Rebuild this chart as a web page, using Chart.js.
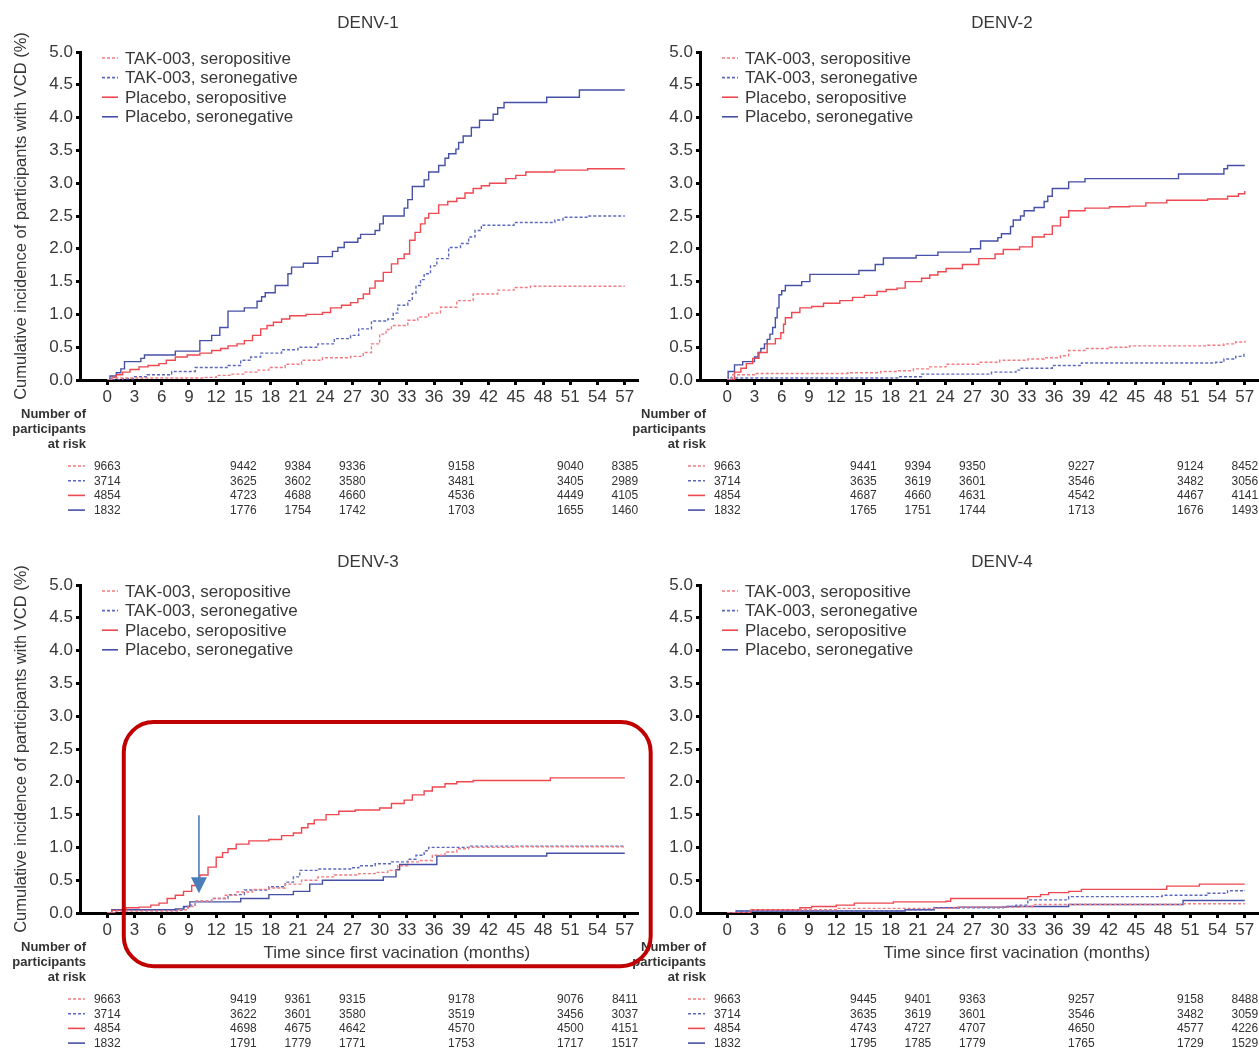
<!DOCTYPE html>
<html>
<head>
<meta charset="utf-8">
<script src="https://cdn.jsdelivr.net/npm/chart.js@4.4.1/dist/chart.umd.min.js"></script>
<style>
html,body{margin:0;padding:0;background:#ffffff;overflow:hidden;width:1259px;height:1052px;}
.panel{position:absolute;}
canvas{display:block;}
</style>
</head>
<body>
<div class="panel" style="left:620px;top:533px;"><canvas id="c4" width="639" height="519"></canvas></div>
<div class="panel" style="left:620px;top:0px;"><canvas id="c2" width="639" height="533"></canvas></div>
<div class="panel" style="left:0px;top:0px;"><canvas id="c1" width="660" height="533"></canvas></div>
<div class="panel" style="left:0px;top:533px;"><canvas id="c3" width="660" height="519"></canvas></div>
<script>
// ---------------- DATA ----------------
const panelTitles = ['DENV-1', 'DENV-2', 'DENV-3', 'DENV-4'];
const seriesLabels = ['TAK-003, seropositive', 'TAK-003, seronegative', 'Placebo, seropositive', 'Placebo, seronegative'];
const xTickValues = [0,3,6,9,12,15,18,21,24,27,30,33,36,39,42,45,48,51,54,57];
const yTickValues = [0,0.5,1,1.5,2,2.5,3,3.5,4,4.5,5];
const riskMonths = [0, 15, 21, 27, 39, 51, 57];
const riskHeader = ['Number of', 'participants', 'at risk'];
const xAxisTitle = 'Time since first vacination (months)';
const yAxisTitle = 'Cumulative incidence of participants with VCD (%)';

// DENV-1 cumulative incidence (%) step points [month, value]
const d1TakPos = [[0,0],[0.5,0.03],[10.6,0.04],[12,0.07],[13.5,0.09],[15.1,0.12],[16.5,0.15],[17.8,0.19],[19.6,0.24],[21.4,0.3],[23.7,0.34],[26.8,0.36],[28.2,0.42],[29.1,0.55],[30,0.7],[30.7,0.77],[31.3,0.83],[33.1,0.91],[34.2,0.96],[35.4,1.02],[36.7,1.11],[38.5,1.21],[40.3,1.31],[43,1.37],[44.8,1.41],[46.6,1.43],[57,1.43]];
const d1TakNeg = [[0,0],[1.7,0.02],[3,0.05],[4.4,0.08],[7.1,0.13],[9.7,0.19],[13.3,0.22],[14.7,0.3],[15.8,0.35],[16.9,0.41],[19.2,0.46],[21,0.5],[23.2,0.55],[25,0.63],[26.8,0.68],[27.7,0.78],[29.1,0.9],[30.9,0.93],[31.5,1.02],[32,1.14],[33.1,1.21],[33.6,1.32],[34,1.44],[34.5,1.53],[34.9,1.62],[35.6,1.74],[36.3,1.85],[37.6,2.02],[38.9,2.08],[39.8,2.18],[40.5,2.28],[41.2,2.36],[44.8,2.4],[49.3,2.44],[50.2,2.48],[52.9,2.5],[57,2.5]];
const d1PlaPos = [[0,0],[0.5,0.04],[1,0.08],[1.7,0.12],[2.5,0.16],[3.5,0.2],[4.5,0.22],[5.7,0.25],[6.5,0.3],[7.5,0.35],[8.8,0.38],[10.2,0.41],[11.5,0.45],[12.5,0.48],[13.3,0.52],[14.3,0.55],[15.1,0.6],[16,0.68],[16.9,0.78],[17.6,0.83],[18.3,0.88],[19.2,0.93],[20.1,0.98],[21.9,1.0],[23.7,1.03],[24.6,1.1],[25.8,1.14],[26.8,1.18],[27.6,1.24],[28.2,1.31],[28.9,1.4],[29.5,1.51],[30.4,1.64],[31.3,1.77],[32,1.85],[32.7,1.92],[33.3,2.13],[33.9,2.25],[34.5,2.38],[35,2.47],[35.4,2.54],[36.5,2.67],[37.5,2.72],[38.5,2.77],[39.4,2.85],[40.3,2.92],[41.2,2.96],[42.1,3.0],[43.9,3.07],[45,3.12],[46.1,3.17],[49.3,3.2],[52.9,3.22],[57,3.22]];
const d1PlaNeg = [[0,0],[0.3,0.06],[1,0.11],[1.5,0.17],[1.9,0.28],[3.7,0.33],[4.1,0.38],[7.5,0.44],[10.2,0.6],[11.5,0.68],[12.4,0.8],[13.3,1.05],[15.1,1.1],[16.5,1.2],[17,1.27],[17.4,1.33],[18.5,1.44],[19.9,1.62],[20.3,1.72],[21.6,1.78],[23.2,1.88],[24.8,1.96],[25.4,2.02],[26.1,2.1],[27.6,2.16],[27.9,2.22],[29.5,2.28],[30,2.38],[30.4,2.5],[32.7,2.62],[33.1,2.75],[33.6,2.95],[34.9,3.05],[35.4,3.17],[36.5,3.27],[37.2,3.38],[37.6,3.45],[38.4,3.52],[38.7,3.62],[39.2,3.72],[40.1,3.85],[41,3.96],[42.5,4.05],[43,4.15],[43.7,4.23],[48.4,4.31],[52,4.42],[57,4.42]];

// DENV-2
const d2TakPos = [[0,0],[0.5,0.08],[3,0.1],[13.3,0.11],[16.9,0.13],[18.7,0.14],[20.5,0.17],[22.3,0.2],[24.1,0.24],[27.7,0.27],[30,0.3],[33.1,0.32],[34.9,0.34],[36.7,0.37],[37.6,0.45],[39.4,0.48],[42.1,0.5],[44.3,0.52],[52.9,0.53],[54.7,0.55],[56,0.58],[57,0.6]];
const d2TakNeg = [[0,0],[0.3,0.03],[19,0.05],[21.4,0.09],[29.1,0.12],[31.8,0.15],[32.2,0.18],[35.8,0.22],[39,0.26],[53.8,0.27],[54.7,0.32],[56,0.36],[56.9,0.42],[57,0.42]];
const d2PlaPos = [[0,0],[0.8,0.12],[1.5,0.18],[2.1,0.25],[2.8,0.33],[3.5,0.42],[4.4,0.55],[5.3,0.63],[5.9,0.72],[6.2,0.85],[6.4,0.95],[7.1,1.03],[8,1.1],[9.3,1.12],[10.6,1.17],[12.4,1.21],[13.8,1.26],[15.1,1.29],[16.5,1.35],[17.5,1.38],[18.7,1.4],[19.6,1.5],[21.4,1.55],[22.3,1.6],[23.2,1.65],[24.1,1.7],[25.9,1.76],[27.7,1.85],[29.5,1.92],[30.4,1.99],[32.2,2.03],[33.6,2.18],[34.9,2.22],[35.8,2.35],[36.7,2.48],[37.6,2.58],[39.4,2.62],[42.1,2.64],[44.3,2.65],[46.1,2.7],[48.4,2.74],[52.9,2.76],[55.1,2.8],[56.3,2.84],[57,2.88]];
const d2PlaNeg = [[0,0],[0.1,0.13],[0.8,0.23],[1.7,0.28],[3,0.35],[3.4,0.42],[3.7,0.48],[4.1,0.55],[4.4,0.62],[4.7,0.7],[5,0.8],[5.3,0.95],[5.5,1.1],[5.7,1.3],[6,1.36],[6.4,1.44],[8.2,1.5],[9.1,1.61],[14.5,1.67],[16.3,1.76],[17.2,1.86],[20.8,1.9],[23.2,1.95],[26.8,2.0],[27.9,2.12],[29.8,2.17],[30.2,2.23],[31.2,2.34],[31.5,2.44],[32.3,2.5],[32.7,2.58],[33.8,2.63],[34.9,2.72],[35.3,2.8],[35.8,2.92],[37.6,3.02],[39.4,3.07],[49.7,3.14],[54.7,3.22],[55.1,3.27],[57,3.27]];

// DENV-3
const d3TakPos = [[0,0],[1,0.03],[8,0.05],[8.9,0.1],[9.7,0.18],[11.5,0.22],[12.9,0.27],[14.2,0.32],[16,0.36],[17.8,0.38],[19.6,0.44],[21.4,0.5],[23.2,0.55],[25,0.58],[27.7,0.6],[29.5,0.62],[30.9,0.65],[32,0.72],[33.1,0.78],[34.5,0.8],[35.8,0.88],[37.2,0.93],[38.5,0.98],[39.8,1.0],[45,1.01],[57,1.01]];
const d3TakNeg = [[0,0],[1,0.04],[8.4,0.08],[8.9,0.12],[9.7,0.18],[11.5,0.22],[13.3,0.28],[15.1,0.35],[17.8,0.4],[19.6,0.47],[20.5,0.55],[21.2,0.65],[23.2,0.67],[26.8,0.69],[27.7,0.72],[29.5,0.75],[31.3,0.78],[33.1,0.82],[34,0.88],[34.9,0.95],[35.4,1.0],[40,1.02],[57,1.02]];
const d3PlaPos = [[0,0],[0.5,0.04],[2.1,0.08],[3.5,0.09],[4.8,0.12],[5.7,0.15],[6.6,0.22],[7.5,0.27],[8.4,0.33],[9.3,0.42],[9.8,0.5],[10.2,0.58],[11.1,0.7],[12,0.85],[12.7,0.92],[13.3,0.98],[14.2,1.05],[15.6,1.1],[17.8,1.12],[19.2,1.18],[20.5,1.22],[21.4,1.3],[22.1,1.36],[22.8,1.42],[24.1,1.5],[25.5,1.55],[27.3,1.57],[30,1.6],[31.3,1.67],[32.7,1.72],[33.6,1.8],[34.9,1.86],[35.8,1.92],[37.2,1.97],[38.5,2.0],[40.3,2.02],[48.8,2.06],[57,2.06]];
const d3PlaNeg = [[0,0],[0.5,0.05],[7.5,0.06],[8.4,0.1],[9.1,0.17],[14.7,0.22],[17.8,0.28],[20.5,0.33],[22.3,0.44],[23.7,0.5],[30.4,0.55],[31.8,0.66],[32.2,0.74],[36.3,0.87],[48.4,0.91],[57,0.91]];

// DENV-4
const d4TakPos = [[0,0],[2.6,0.05],[12,0.07],[25,0.09],[32.2,0.1],[33.6,0.13],[50.2,0.14],[57,0.14]];
const d4TakNeg = [[0,0],[1,0.03],[19.6,0.05],[22.8,0.08],[30.4,0.1],[31.8,0.12],[33.1,0.2],[37.6,0.25],[47.9,0.27],[52.9,0.3],[55.1,0.34],[57,0.35]];
const d4PlaPos = [[0,0],[2.6,0.05],[8,0.08],[9.3,0.1],[12,0.12],[14,0.15],[18.3,0.17],[24.1,0.18],[24.6,0.22],[33.1,0.25],[34.5,0.28],[35.4,0.31],[37.6,0.33],[39,0.36],[48.4,0.41],[52,0.44],[57,0.44]];
const d4PlaNeg = [[0,0],[1,0.03],[19.6,0.05],[22.8,0.08],[25.5,0.09],[30.9,0.1],[37.6,0.13],[50.2,0.19],[57,0.19]];

// Numbers at risk (rows: TAK+ , TAK- , Placebo+ , Placebo-)
const risk1TakPos = [9663, 9442, 9384, 9336, 9158, 9040, 8385];
const risk1TakNeg = [3714, 3625, 3602, 3580, 3481, 3405, 2989];
const risk1PlaPos = [4854, 4723, 4688, 4660, 4536, 4449, 4105];
const risk1PlaNeg = [1832, 1776, 1754, 1742, 1703, 1655, 1460];
const risk2TakPos = [9663, 9441, 9394, 9350, 9227, 9124, 8452];
const risk2TakNeg = [3714, 3635, 3619, 3601, 3546, 3482, 3056];
const risk2PlaPos = [4854, 4687, 4660, 4631, 4542, 4467, 4141];
const risk2PlaNeg = [1832, 1765, 1751, 1744, 1713, 1676, 1493];
const risk3TakPos = [9663, 9419, 9361, 9315, 9178, 9076, 8411];
const risk3TakNeg = [3714, 3622, 3601, 3580, 3519, 3456, 3037];
const risk3PlaPos = [4854, 4698, 4675, 4642, 4570, 4500, 4151];
const risk3PlaNeg = [1832, 1791, 1779, 1771, 1753, 1717, 1517];
const risk4TakPos = [9663, 9445, 9401, 9363, 9257, 9158, 8488];
const risk4TakNeg = [3714, 3635, 3619, 3601, 3546, 3482, 3059];
const risk4PlaPos = [4854, 4743, 4727, 4707, 4650, 4577, 4226];
const risk4PlaNeg = [1832, 1795, 1785, 1779, 1765, 1729, 1529];

// ---------------- STYLE ----------------
const FONT = '"Liberation Sans", Arial, Helvetica, sans-serif';
const TEXT = '#383838';
const seriesStyles = [
  {color: '#F27A80', dash: [3, 2], width: 1.4},
  {color: '#5C68BE', dash: [3, 2], width: 1.4},
  {color: '#EE4850', dash: [], width: 1.4},
  {color: '#4550A6', dash: [], width: 1.4}
];
const X_MIN = -3, X_MAX = 58.5;
const PLOT_LEFT = 80, PLOT_TOP = 52, PLOT_BOTTOM = 380, PX_PER_MONTH = 9.08;
const PLOT_RIGHT = PLOT_LEFT + PX_PER_MONTH * (X_MAX - X_MIN);
const XAXIS_H = 30;

const panels = [
  {canvas: 'c1', title: panelTitles[0], titleX: 368, titleY: 23, yTitle: true, xTitle: false, annot: false,
   series: [d1TakPos, d1TakNeg, d1PlaPos, d1PlaNeg], risk: [risk1TakPos, risk1TakNeg, risk1PlaPos, risk1PlaNeg]},
  {canvas: 'c2', title: panelTitles[1], titleX: 382, titleY: 23, yTitle: false, xTitle: false, annot: false,
   series: [d2TakPos, d2TakNeg, d2PlaPos, d2PlaNeg], risk: [risk2TakPos, risk2TakNeg, risk2PlaPos, risk2PlaNeg]},
  {canvas: 'c3', title: panelTitles[2], titleX: 368, titleY: 29, yTitle: true, xTitle: true, annot: true,
   series: [d3TakPos, d3TakNeg, d3PlaPos, d3PlaNeg], risk: [risk3TakPos, risk3TakNeg, risk3PlaPos, risk3PlaNeg]},
  {canvas: 'c4', title: panelTitles[3], titleX: 382, titleY: 29, yTitle: false, xTitle: true, annot: false,
   series: [d4TakPos, d4TakNeg, d4PlaPos, d4PlaNeg], risk: [risk4TakPos, risk4TakNeg, risk4PlaPos, risk4PlaNeg]}
];

// ---------------- DECORATION PLUGIN ----------------
function roundRect(ctx, x, y, w, h, r) {
  ctx.beginPath();
  ctx.moveTo(x + r, y);
  ctx.lineTo(x + w - r, y);
  ctx.arcTo(x + w, y, x + w, y + r, r);
  ctx.lineTo(x + w, y + h - r);
  ctx.arcTo(x + w, y + h, x + w - r, y + h, r);
  ctx.lineTo(x + r, y + h);
  ctx.arcTo(x, y + h, x, y + h - r, r);
  ctx.lineTo(x, y + r);
  ctx.arcTo(x, y, x + r, y, r);
  ctx.closePath();
}

const decoPlugin = {
  id: 'deco',
  afterDraw(chart, args, o) {
    const ctx = chart.ctx, xs = chart.scales.x, ys = chart.scales.y, ca = chart.chartArea;
    ctx.save();
    // panel title
    ctx.fillStyle = TEXT;
    ctx.textAlign = 'center';
    ctx.textBaseline = 'middle';
    ctx.font = '17px ' + FONT;
    ctx.fillText(o.title, o.titleX, o.titleY);

    // legend inside plot area
    const ds = chart.data.datasets;
    ds.forEach((d, i) => {
      const y = ca.top + 6 + 19.6 * i;
      ctx.strokeStyle = d.borderColor;
      ctx.lineWidth = 1.6;
      ctx.setLineDash(d.borderDash || []);
      ctx.beginPath();
      ctx.moveTo(ca.left + 22, y);
      ctx.lineTo(ca.left + 38, y);
      ctx.stroke();
      ctx.setLineDash([]);
      ctx.fillStyle = TEXT;
      ctx.textAlign = 'left';
      ctx.font = '17px ' + FONT;
      ctx.fillText(d.label, ca.left + 45, y + 1);
    });

    // y axis title
    if (o.yTitle) {
      ctx.save();
      ctx.translate(21, (ca.top + ca.bottom) / 2);
      ctx.rotate(-Math.PI / 2);
      ctx.textAlign = 'center';
      ctx.textBaseline = 'middle';
      ctx.font = '16.5px ' + FONT;
      ctx.fillStyle = TEXT;
      ctx.fillText(yAxisTitle, 0, 0);
      ctx.restore();
    }
    // x axis title
    if (o.xTitle) {
      ctx.textAlign = 'center';
      ctx.font = '17px ' + FONT;
      ctx.fillStyle = TEXT;
      ctx.fillText(xAxisTitle, xs.getPixelForValue(31.9), ca.bottom + 40);
    }
    // risk table header
    ctx.textAlign = 'right';
    ctx.font = 'bold 13px ' + FONT;
    ctx.fillStyle = '#333333';
    riskHeader.forEach((t, i) => ctx.fillText(t, ca.left + 6, ca.bottom + 34 + 15 * i));
    // risk rows
    o.risk.forEach((row, i) => {
      const y = ca.bottom + 86 + 14.7 * i;
      const d = ds[i];
      ctx.strokeStyle = d.borderColor;
      ctx.lineWidth = 1.6;
      ctx.setLineDash(d.borderDash || []);
      ctx.beginPath();
      ctx.moveTo(ca.left - 12, y);
      ctx.lineTo(ca.left + 5, y);
      ctx.stroke();
      ctx.setLineDash([]);
      ctx.fillStyle = '#333333';
      ctx.font = '12px ' + FONT;
      ctx.textAlign = 'center';
      row.forEach((n, j) => ctx.fillText(String(n), xs.getPixelForValue(riskMonths[j]), y + 0.5));
    });

    // highlight annotation
    if (o.annot) {
      const x0 = xs.getPixelForValue(1.82), x1 = xs.getPixelForValue(59.85);
      const y0 = ys.getPixelForValue(2.91), y1 = ys.getPixelForValue(-0.81);
      ctx.strokeStyle = '#C00000';
      ctx.lineWidth = 4;
      roundRect(ctx, x0, y0, x1 - x0, y1 - y0, 30);
      ctx.stroke();
      const ax = xs.getPixelForValue(10.1);
      const aTop = ys.getPixelForValue(1.49), aTip = ys.getPixelForValue(0.30);
      ctx.strokeStyle = '#4A7EBB';
      ctx.fillStyle = '#4A7EBB';
      ctx.lineWidth = 1.6;
      ctx.beginPath();
      ctx.moveTo(ax, aTop);
      ctx.lineTo(ax, aTip - 12);
      ctx.stroke();
      ctx.beginPath();
      ctx.moveTo(ax, aTip);
      ctx.lineTo(ax - 8, aTip - 16);
      ctx.lineTo(ax + 8, aTip - 16);
      ctx.closePath();
      ctx.fill();
    }
    ctx.restore();
  }
};

// ---------------- CHARTS ----------------
panels.forEach(p => {
  const canvas = document.getElementById(p.canvas);
  const W = canvas.width, H = canvas.height;
  const datasets = p.series.map((s, i) => ({
    label: seriesLabels[i],
    data: s.map(pt => ({x: pt[0], y: pt[1]})),
    borderColor: seriesStyles[i].color,
    borderDash: seriesStyles[i].dash,
    borderWidth: seriesStyles[i].width,
    pointRadius: 0,
    stepped: 'before',
    fill: false
  }));
  new Chart(canvas, {
    type: 'line',
    data: {datasets},
    options: {
      responsive: false,
      animation: false,
      events: [],
      layout: {padding: {left: 0, top: PLOT_TOP, right: W - PLOT_RIGHT, bottom: H - PLOT_BOTTOM - XAXIS_H}},
      plugins: {
        legend: {display: false},
        tooltip: {enabled: false},
        deco: {title: p.title, titleX: p.titleX, titleY: p.titleY, yTitle: p.yTitle, xTitle: p.xTitle, annot: p.annot, risk: p.risk}
      },
      scales: {
        x: {
          type: 'linear', min: X_MIN, max: X_MAX,
          afterBuildTicks: s => { s.ticks = xTickValues.map(v => ({value: v})); },
          afterFit: s => { s.height = XAXIS_H; },
          border: {display: true, color: '#000', width: 3},
          grid: {display: true, drawOnChartArea: false, drawTicks: true, tickLength: 5, tickColor: '#000', tickWidth: 3},
          ticks: {autoSkip: false, maxRotation: 0, padding: 2, color: TEXT, font: {family: FONT, size: 17}, callback: v => String(v)}
        },
        y: {
          type: 'linear', min: 0, max: 5,
          afterBuildTicks: s => { s.ticks = yTickValues.map(v => ({value: v})); },
          afterFit: s => { s.width = PLOT_LEFT; },
          border: {display: true, color: '#000', width: 3},
          grid: {display: true, drawOnChartArea: false, drawTicks: true, tickLength: 4, tickColor: '#000', tickWidth: 3},
          ticks: {padding: 3, color: TEXT, font: {family: FONT, size: 17}, callback: v => Number(v).toFixed(1)}
        }
      }
    },
    plugins: [decoPlugin]
  });
});
</script>
</body>
</html>
